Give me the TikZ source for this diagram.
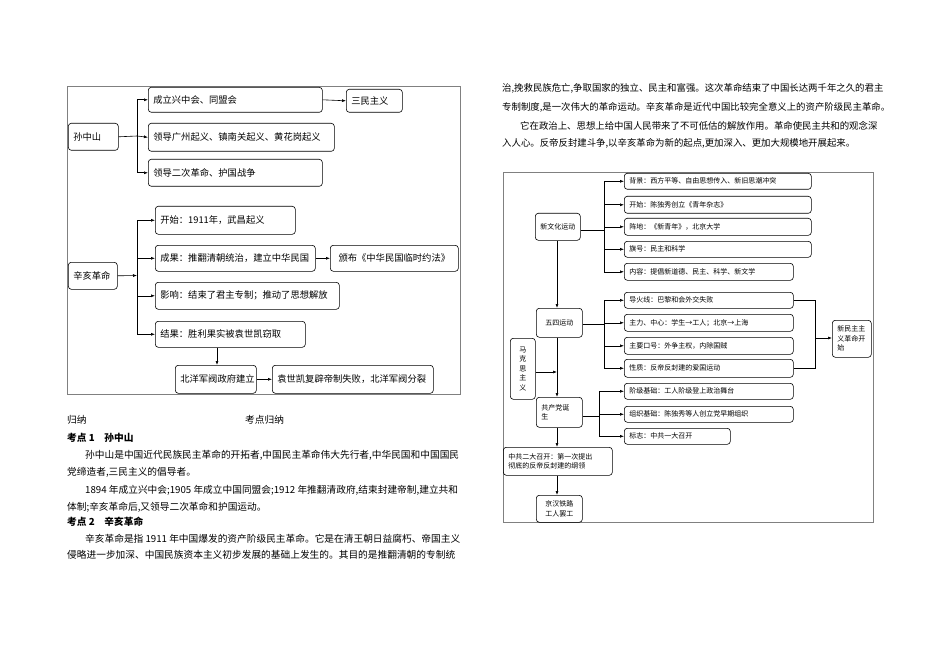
\documentclass[tikz,border=0pt]{standalone}
\usepackage{fontspec}
\setmainfont{Noto Sans CJK SC}
\usetikzlibrary{arrows.meta}
\tikzset{
 bx/.style={draw,rounded corners=3pt,inner xsep=5pt,inner ysep=1pt,align=left,line width=0.6pt},
 arr/.style={-{Latex[length=4pt,width=3pt]},line width=0.6pt},
 ln/.style={line width=0.6pt},
 big/.style={font=\fontsize{9.3}{12}\selectfont},
 sml/.style={font=\fontsize{7}{9.5}\selectfont},
 body/.style={anchor=west,inner sep=0pt,font=\fontsize{9.4}{11}\selectfont},
 bodyl/.style={anchor=west,inner sep=0pt,font=\fontsize{9.7}{11}\selectfont},
}
\newcommand\BX[7][]{%
 \pgfmathsetmacro\bw{#5-#3}\pgfmathsetmacro\bh{#6-#4}%
 \node[bx,#1,anchor=north west,minimum width=\bw pt,minimum height=\bh pt,text width=\bw pt-10pt] (#2) at (#3,#4) {#7};}
\begin{document}
\begin{tikzpicture}[x=1pt,y=-1pt]
\useasboundingbox (0,0) rectangle (950,671);
% left frame
\draw[line width=0.4pt,gray] (67,86) rectangle (460,394);
\BX[big]{szs}{68}{123}{118}{150}{孙中山}
\BX[big]{a1}{148}{87}{322}{112}{成立兴中会、同盟会}
\BX[big]{a1r}{346}{89}{402}{112}{三民主义}
\BX[big]{a2}{148}{123}{334}{151}{领导广州起义、镇南关起义、黄花岗起义}
\BX[big]{a3}{148}{159}{322}{186}{领导二次革命、护国战争}
\coordinate (j1) at (137,136);
\draw[ln] (szs.east) -- (j1);
\draw[arr] (j1) |- (a1.west);
\draw[arr] (j1) -- (a2.west);
\draw[arr] (j1) |- (a3.west);
\draw[arr] (a1.east) -- (a1r.west);
\BX[big]{xh}{68}{262}{117}{289}{辛亥革命}
\BX[big]{b1}{155}{206}{295}{234}{开始：1911年，武昌起义}
\BX[big]{b2}{155}{245}{315}{271}{成果：推翻清朝统治，建立中华民国}
\BX[big,align=center]{b2r}{330}{245}{458}{271}{颁布《中华民国临时约法》}
\BX[big]{b3}{155}{282}{339}{309}{影响：结束了君主专制；推动了思想解放}
\BX[big]{b4}{155}{321}{305}{347}{结果：胜利果实被袁世凯窃取}
\BX[big,inner xsep=3pt]{b5}{175}{365}{256}{393}{北洋军阀政府建立}
\BX[big]{b6}{272}{365}{433}{393}{袁世凯复辟帝制失败，北洋军阀分裂}
\coordinate (j2) at (137,275.5);
\draw[arr] (xh.east) -- (j2);
\draw[arr] (j2) |- (b1.west);
\draw[arr] (j2) |- (b2.west);
\draw[arr] (j2) |- (b3.west);
\draw[arr] (j2) |- (b4.west);
\draw[arr] (b2.east) -- (b2r.west);
\draw[arr] (b4.south -| 217,0) -- (b5.north -| 217,0);
\draw[arr] (b5.east) -- (b6.west);
% left text
\node[bodyl] (t1) at (67,420) {归纳};
\node[bodyl] (t2) at (245,420) {考点归纳};
\node[bodyl,font=\fontsize{9.7}{11}\selectfont\bfseries] (t3) at (67,438) {考点 1\quad 孙中山};
\node[bodyl] (t4) at (85,455) {孙中山是中国近代民族民主革命的开拓者,中国民主革命伟大先行者,中华民国和中国国民};
\node[bodyl] (t5) at (67,472) {党缔造者,三民主义的倡导者。};
\node[bodyl] (t6) at (85,490) {1894 年成立兴中会;1905 年成立中国同盟会;1912 年推翻清政府,结束封建帝制,建立共和};
\node[bodyl] (t7) at (67,507) {体制;辛亥革命后,又领导二次革命和护国运动。};
\node[bodyl,font=\fontsize{9.7}{11}\selectfont\bfseries] (t8) at (67,522) {考点 2\quad 辛亥革命};
\node[bodyl] (t9) at (85,539) {辛亥革命是指 1911 年中国爆发的资产阶级民主革命。它是在清王朝日益腐朽、帝国主义};
\node[bodyl] (t10) at (67,555) {侵略进一步加深、中国民族资本主义初步发展的基础上发生的。其目的是推翻清朝的专制统};
% right text
\node[body] (r1) at (502,88) {治,挽救民族危亡,争取国家的独立、民主和富强。这次革命结束了中国长达两千年之久的君主};
\node[body] (r2) at (502,107) {专制制度,是一次伟大的革命运动。辛亥革命是近代中国比较完全意义上的资产阶级民主革命。};
\node[body] (r3) at (520,126) {它在政治上、思想上给中国人民带来了不可低估的解放作用。革命使民主共和的观念深};
\node[body] (r4) at (502,143) {入人心。反帝反封建斗争,以辛亥革命为新的起点,更加深入、更加大规模地开展起来。};
% right frame
\draw[line width=0.4pt,gray] (503,172) rectangle (873,522);
\BX[sml]{xw}{535}{213}{580}{240}{新文化运动}
\BX[sml]{c1}{624}{173}{811}{189}{背景：西方平等、自由思想传入、新旧思潮冲突}
\BX[sml]{c2}{624}{196}{811}{213}{开始：陈独秀创立《青年杂志》}
\BX[sml]{c3}{624}{218}{811}{235}{阵地：《新青年》，北京大学}
\BX[sml]{c4}{624}{241}{811}{257}{旗号：民主和科学}
\BX[sml]{c5}{624}{263}{793}{280}{内容：提倡新道德、民主、科学、新文学}
\coordinate (k1) at (604,230);
\draw[ln] (xw.east |- k1) -- (k1);
\draw[arr] (k1) |- (c1.west);
\draw[arr] (k1) |- (c2.west);
\draw[arr] (k1) |- (c3.west);
\draw[arr] (k1) |- (c4.west);
\draw[arr] (k1) |- (c5.west);
\BX[sml,align=center]{ws}{536}{308}{582}{337}{五四运动}
\BX[sml]{d1}{624}{292}{793}{308}{导火线：巴黎和会外交失败}
\BX[sml]{d2}{624}{314}{793}{331}{主力、中心：学生→工人；北京→上海}
\BX[sml]{d3}{624}{337}{793}{354}{主要口号：外争主权，内除国贼}
\BX[sml]{d4}{624}{359}{793}{377}{性质：反帝反封建的爱国运动}
\coordinate (k2) at (604,324);
\draw[ln] (ws.east |- k2) -- (k2);
\draw[arr] (k2) |- (d1.west);
\draw[arr] (k2) |- (d2.west);
\draw[arr] (k2) |- (d3.west);
\draw[arr] (k2) |- (d4.west);
\BX[sml,inner xsep=3pt]{xm}{832}{320}{871}{357}{新民主主\\义革命开\\始}
\coordinate (k3) at (815,338);
\draw[ln] (d1.east) -| (k3);
\draw[ln] (d4.east) -| (k3);
\draw[arr] (k3) -- (xm.west |- k3);
\BX[sml,align=center,inner xsep=2pt]{mk}{510}{338}{535}{399}{马\\克\\思\\主\\义}
\coordinate (k4) at (557,372);
\draw[arr] (mk.east |- k4) -- (k4);
\draw[arr] (xw.south -| 557,0) -- (ws.north -| 557,0);
\BX[sml]{gc}{536}{397}{582}{427}{共产党诞\\生}
\draw[arr] (ws.south -| 557,0) -- (gc.north -| 557,0);
\BX[sml]{e1}{624}{383}{793}{399}{阶级基础：工人阶级登上政治舞台}
\BX[sml]{e2}{624}{406}{793}{422}{组织基础：陈独秀等人创立党早期组织}
\BX[sml]{e3}{624}{428}{730}{444}{标志：中共一大召开}
\coordinate (k5) at (599,416);
\draw[ln] (gc.east |- k5) -- (k5);
\draw[arr] (k5) |- (e1.west);
\draw[arr] (k5) |- (e2.west);
\draw[arr] (k5) |- (e3.west);
\BX[sml]{ed}{503}{447}{612}{475}{中共二大召开：第一次提出\\彻底的反帝反封建的纲领}
\draw[arr] (gc.south -| 557,0) -- (ed.north -| 557,0);
\BX[sml,align=center]{jh}{536}{495}{582}{522}{京汉铁路\\工人罢工}
\draw[arr] (ed.south -| 557,0) -- (jh.north -| 557,0);
\end{tikzpicture}
\end{document}
